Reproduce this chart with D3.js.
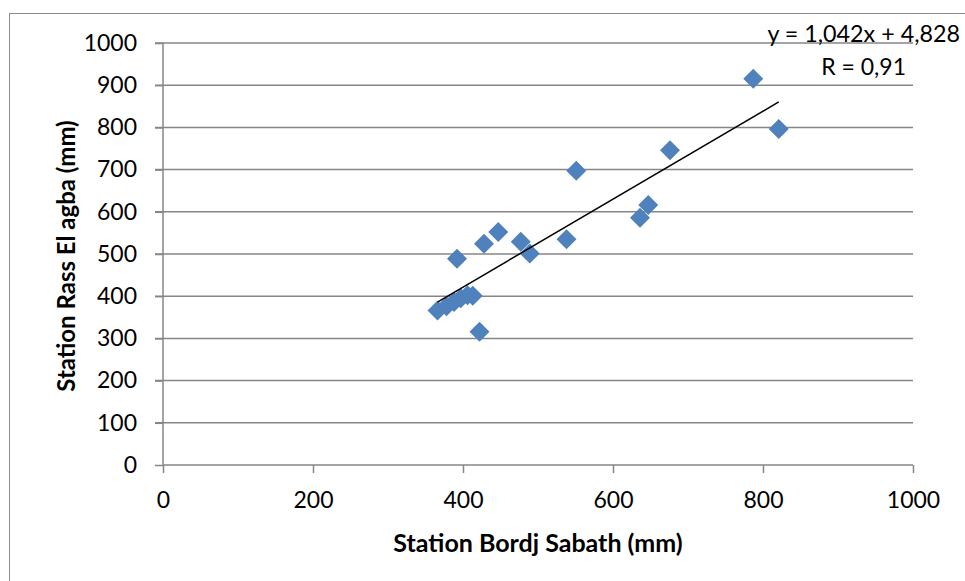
<!DOCTYPE html>
<html><head><meta charset="utf-8">
<script src="https://cdn.jsdelivr.net/npm/d3@7"></script>
<style>body{margin:0;background:#fff}svg{display:block}text{font-family:Lato,"Open Sans",sans-serif}</style>
</head><body>
<svg id="c" width="965" height="581"></svg>
<script>
const xValues = [787, 821, 676, 551, 647, 636, 538, 447, 428, 477, 489, 392, 422, 366, 378, 388, 397, 406, 413];
const yValues = [915, 796, 746, 697, 616, 586, 535, 552, 524, 529, 501, 489, 316, 366, 376, 386, 395, 402, 401];
const xTicks = [0, 200, 400, 600, 800, 1000];
const yTicks = [0, 100, 200, 300, 400, 500, 600, 700, 800, 900, 1000];
const slope = 1.042, intercept = 4.828;
const eqLabel = "y = 1,042x + 4,828";
const rLabel = "R = 0,91";
const xTitle = "Station Bordj Sabath (mm)";
const yTitle = "Station Rass El agba (mm)";

const svg = d3.select("#c");
const L = 163, R = 913, T = 43, B = 465;
const x = d3.scaleLinear().domain([0, 1000]).range([L, R]);
const y = d3.scaleLinear().domain([0, 1000]).range([B, T]);
const grid = "#868686";

svg.append("rect").attr("x", 9.5).attr("y", 13.5).attr("width", 970).attr("height", 600)
  .attr("fill", "none").attr("stroke", "#8c8c8c").attr("stroke-width", 1);

// gridlines
svg.append("g").selectAll("line").data(yTicks.filter(d => d > 0)).join("line")
  .attr("x1", L - 8).attr("x2", R).attr("y1", d => y(d)).attr("y2", d => y(d))
  .attr("stroke", grid).attr("stroke-width", 1.5);

// y axis
const ya = svg.append("g").attr("transform", `translate(${L},0)`)
  .call(d3.axisLeft(y).tickValues(yTicks).tickSize(8).tickPadding(18).tickFormat(d3.format("d")));
ya.select(".domain").attr("stroke", grid).attr("stroke-width", 1.5).attr("d", `M0,${B}V${T}`);
ya.selectAll(".tick line").attr("stroke", grid).attr("stroke-width", 1.5);
ya.selectAll(".tick text").attr("font-size", 23).attr("fill", "#000").attr("font-family", "Lato");

// x axis
const xa = svg.append("g").attr("transform", `translate(0,${B})`)
  .call(d3.axisBottom(x).tickValues(xTicks).tickSize(8).tickPadding(19).tickFormat(d3.format("d")));
xa.select(".domain").attr("stroke", grid).attr("stroke-width", 1.5).attr("d", `M${L},0H${R}`);
xa.selectAll(".tick line").attr("stroke", grid).attr("stroke-width", 1.5);
xa.selectAll(".tick text").attr("font-size", 23).attr("fill", "#000").attr("font-family", "Lato");

// points
const pts = xValues.map((v, i) => ({x: v, y: yValues[i]}));
svg.append("g").selectAll("path").data(pts).join("path")
  .attr("transform", d => `translate(${x(d.x)},${y(d.y)})`)
  .attr("d", "M0,-10L10,0L0,10L-10,0Z")
  .attr("fill", "#4F81BD");

// trendline
const xmin = d3.min(xValues), xmax = d3.max(xValues);
svg.append("line")
  .attr("x1", x(xmin)).attr("y1", y(slope * xmin + intercept))
  .attr("x2", x(xmax)).attr("y2", y(slope * xmax + intercept))
  .attr("stroke", "#000").attr("stroke-width", 1.5);

// labels
svg.append("text").attr("x", 960).attr("y", 42).attr("text-anchor", "end")
  .attr("font-size", 23.3).text(eqLabel);
svg.append("text").attr("x", 906).attr("y", 75).attr("text-anchor", "end")
  .attr("font-size", 23).text(rLabel);

svg.append("text").attr("x", 538).attr("y", 552).attr("text-anchor", "middle")
  .attr("font-size", 25).attr("font-weight", "bold").text(xTitle);
svg.append("text").attr("transform", "translate(75,256) rotate(-90)").attr("text-anchor", "middle")
  .attr("font-size", 24).attr("font-weight", "bold").text(yTitle);
</script>
</body></html>
